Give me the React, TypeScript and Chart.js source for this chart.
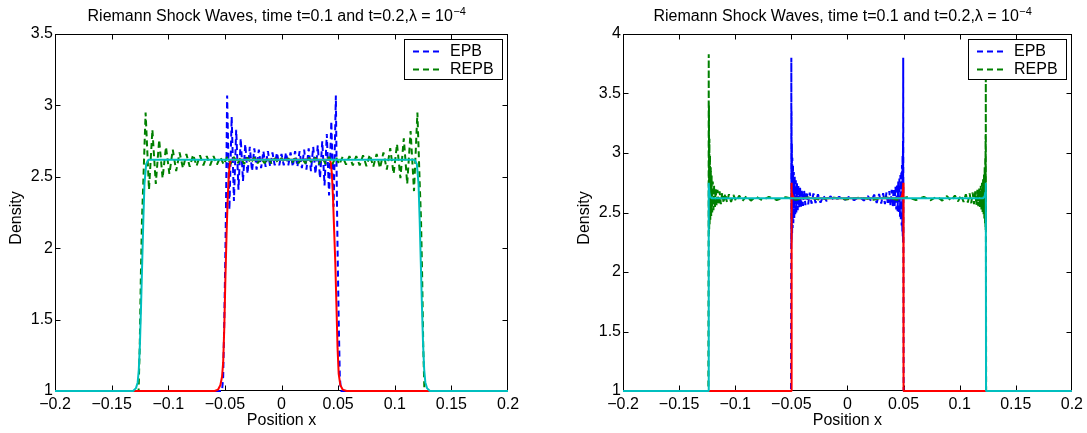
import React, { useEffect, useRef } from 'react';
import { Chart, registerables } from 'chart.js';

Chart.register(...registerables);

const FONT = "'Liberation Sans', Arial, Helvetica, sans-serif";

// ---------- tick labels ----------
const xTickValues = [-0.2, -0.15, -0.1, -0.05, 0, 0.05, 0.1, 0.15, 0.2];
const xTickLabels = ['\u22120.2', '\u22120.15', '\u22120.1', '\u22120.05', '0', '0.05', '0.1', '0.15', '0.2'];
const leftYTickValues = [1, 1.5, 2, 2.5, 3, 3.5];
const leftYTickLabels = ['1', '1.5', '2', '2.5', '3', '3.5'];
const rightYTickValues = [1, 1.5, 2, 2.5, 3, 3.5, 4];
const rightYTickLabels = ['1', '1.5', '2', '2.5', '3', '3.5', '4'];

const titleMain = 'Riemann Shock Waves, time t=0.1 and t=0.2,\u03bb = 10';
const titleSup = '\u22124';
const xAxisTitle = 'Position x';
const yAxisTitle = 'Density';
const legendLabels = ['EPB', 'REPB'];

// ---------- left panel data ----------
const leftRedX = [-0.2, -0.059, -0.056, -0.054, -0.0525, -0.0515, -0.0505, -0.0495, -0.0485, -0.0475, -0.0465, -0.0455, -0.0445,
  0.0425, 0.0435, 0.0445, 0.0455, 0.0465, 0.0475, 0.0485, 0.0495, 0.0505, 0.052, 0.054, 0.0575, 0.2];
const leftRedY = [1, 1, 1.01, 1.04, 1.1, 1.2, 1.45, 1.8, 2.1, 2.35, 2.52, 2.6, 2.62,
  2.62, 2.6, 2.52, 2.35, 2.12, 1.9, 1.6, 1.3, 1.12, 1.04, 1.01, 1, 1];

const leftCyanX = [-0.2, -0.131, -0.1285, -0.127, -0.126, -0.125, -0.124, -0.123, -0.122, -0.121, -0.1195, -0.1175,
  0.1175, 0.1195, 0.121, 0.122, 0.123, 0.124, 0.125, 0.126, 0.127, 0.1285, 0.131, 0.2];
const leftCyanY = [1, 1, 1.02, 1.06, 1.15, 1.33, 1.6, 1.9, 2.2, 2.45, 2.59, 2.62,
  2.62, 2.59, 2.45, 2.2, 1.9, 1.6, 1.33, 1.15, 1.06, 1.02, 1, 1];

const leftEpbX = [-0.2, -0.0525, -0.0515, -0.0505, -0.0495, -0.049,
  -0.048, -0.046, -0.044, -0.042, -0.04, -0.038, -0.036, -0.034, -0.032, -0.03,
  -0.028, -0.026, -0.024, -0.022, -0.02, -0.018, -0.016, -0.014, -0.012, -0.01,
  -0.008, -0.006, -0.004, -0.002, 0, 0.002, 0.004, 0.006, 0.008, 0.01,
  0.012, 0.014, 0.016, 0.018, 0.02, 0.022, 0.024, 0.026, 0.028, 0.03,
  0.032, 0.034, 0.036, 0.038, 0.04, 0.042, 0.044, 0.046, 0.048,
  0.049, 0.0495, 0.0505, 0.0515, 0.0525, 0.2];
const leftEpbY = [1, 1, 1.1, 1.5, 2.0, 2.3,
  3.07, 2.27, 2.92, 2.33, 2.83, 2.41, 2.77, 2.47, 2.73, 2.52,
  2.71, 2.54, 2.70, 2.55, 2.69, 2.56, 2.68, 2.57, 2.68, 2.57,
  2.67, 2.58, 2.67, 2.58, 2.66, 2.58, 2.67, 2.58, 2.67, 2.57,
  2.68, 2.57, 2.68, 2.56, 2.69, 2.55, 2.70, 2.54, 2.71, 2.52,
  2.72, 2.49, 2.75, 2.44, 2.80, 2.37, 2.89, 2.29, 3.07,
  2.3, 2.0, 1.5, 1.1, 1, 1];

const leftRepbX = [-0.2, -0.1262, -0.1252, -0.1242, -0.1232, -0.1222,
  -0.12, -0.117, -0.114, -0.111, -0.108, -0.105, -0.102, -0.099, -0.096, -0.093,
  -0.09, -0.087, -0.084, -0.081, -0.078, -0.075, -0.072, -0.069, -0.066, -0.063,
  -0.06, -0.057, -0.054, -0.051, -0.048, -0.045, -0.042, -0.039, -0.036, -0.033,
  -0.03, -0.027, -0.024, -0.021, -0.018, -0.015, -0.012, -0.009, -0.006, -0.003,
  0, 0.003, 0.006, 0.009, 0.012, 0.015, 0.018, 0.021, 0.024, 0.027,
  0.03, 0.033, 0.036, 0.039, 0.042, 0.045, 0.048, 0.051, 0.054, 0.057,
  0.06, 0.063, 0.066, 0.069, 0.072, 0.075, 0.078, 0.081, 0.084, 0.087,
  0.09, 0.093, 0.096, 0.099, 0.102, 0.105, 0.108, 0.111, 0.114, 0.117, 0.12,
  0.1222, 0.1232, 0.1242, 0.1252, 0.1262, 0.2];
const leftRepbY = [1, 1, 1.3, 1.8, 2.2, 2.42,
  2.95, 2.41, 2.83, 2.45, 2.76, 2.49, 2.71, 2.52, 2.69, 2.54,
  2.67, 2.56, 2.66, 2.57, 2.655, 2.575, 2.65, 2.58, 2.645, 2.58,
  2.645, 2.585, 2.64, 2.585, 2.64, 2.59, 2.64, 2.59, 2.635, 2.59,
  2.635, 2.595, 2.635, 2.595, 2.63, 2.595, 2.63, 2.595, 2.63, 2.6,
  2.63, 2.6, 2.63, 2.595, 2.63, 2.595, 2.63, 2.595, 2.635, 2.595,
  2.635, 2.59, 2.635, 2.59, 2.64, 2.59, 2.64, 2.585, 2.64, 2.585,
  2.645, 2.58, 2.645, 2.58, 2.65, 2.575, 2.655, 2.57, 2.66, 2.56,
  2.67, 2.55, 2.70, 2.52, 2.73, 2.49, 2.77, 2.45, 2.82, 2.40, 2.95,
  2.42, 2.2, 1.8, 1.3, 1, 1];

// ---------- right panel data ----------
const rightRedX = [-0.2, -0.0502, -0.05, -0.0495, -0.0487, -0.0473, 0.0471, 0.0485, 0.0493, 0.0498, 0.05, 0.2];
const rightRedY = [1, 1, 2.75, 2.67, 2.635, 2.62, 2.62, 2.635, 2.67, 2.75, 1, 1];

const rightCyanX = [-0.2, -0.1238, -0.1236, -0.1231, -0.1224, -0.121, 0.121, 0.1222, 0.1229, 0.1233, 0.1235, 0.2];
const rightCyanY = [1, 1, 2.75, 2.67, 2.635, 2.62, 2.62, 2.635, 2.67, 2.75, 1, 1];

const rightEpbX = [-0.2, -0.0503, -0.0501, -0.05, -0.0499, -0.0498, -0.0497, -0.0495, -0.0493, -0.0491,
  -0.0488, -0.0485, -0.0482, -0.0478, -0.0474, -0.047, -0.0465, -0.046, -0.0455, -0.0449,
  -0.0443, -0.0437, -0.043, -0.0422, -0.0414, -0.0405, -0.0396, -0.0386, -0.0375, -0.0363,
  -0.035, -0.0336, -0.032, -0.0303, -0.0284, -0.0263, -0.024, -0.0214, -0.0185, -0.0152,
  -0.0115, -0.0074, -0.003,
  0.0015, 0.006, 0.0105, 0.0146, 0.0182, 0.0212, 0.0238, 0.0261, 0.0282, 0.0301,
  0.0318, 0.0334, 0.0348, 0.0361, 0.0373, 0.0384, 0.0394, 0.0403, 0.0412, 0.042,
  0.0428, 0.0435, 0.0441, 0.0447, 0.0453, 0.0458, 0.0463, 0.0468, 0.0472, 0.0476,
  0.048, 0.0483, 0.0486, 0.0489, 0.0491, 0.0493, 0.0495, 0.0496, 0.0497, 0.0499, 0.0501, 0.2];
const rightEpbY = [1, 1, 2.21, 3.80, 2.23, 3.35, 2.27, 3.08, 2.32, 2.96,
  2.37, 2.89, 2.41, 2.84, 2.45, 2.80, 2.48, 2.77, 2.5, 2.745,
  2.52, 2.725, 2.535, 2.71, 2.545, 2.695, 2.555, 2.685, 2.562, 2.675,
  2.568, 2.667, 2.574, 2.66, 2.579, 2.654, 2.583, 2.64, 2.595, 2.636,
  2.6, 2.632, 2.603,
  2.632, 2.603, 2.634, 2.6, 2.638, 2.595, 2.65, 2.58, 2.656, 2.575,
  2.662, 2.57, 2.67, 2.564, 2.68, 2.557, 2.69, 2.548, 2.705, 2.538,
  2.72, 2.525, 2.74, 2.51, 2.76, 2.49, 2.785, 2.465, 2.815, 2.43,
  2.85, 2.39, 2.9, 2.34, 2.98, 2.29, 3.1, 2.25, 3.80, 2.21, 1, 1];

const rightRepbX = [-0.2, -0.1239, -0.1237, -0.1236, -0.1235, -0.1234, -0.1232, -0.123, -0.1228, -0.1225,
  -0.1222, -0.1218, -0.1214, -0.121, -0.1205, -0.12, -0.1194, -0.1188, -0.1181, -0.1174,
  -0.1166, -0.1158, -0.1149, -0.1139, -0.1128, -0.1116, -0.1103, -0.1089, -0.1073, -0.1056,
  -0.1037, -0.1016, -0.0992, -0.0965, -0.0935, -0.09, -0.086, -0.0814, -0.076, -0.07,
  -0.063, -0.055, -0.046, -0.036, -0.025, -0.013, -0.001,
  0.011, 0.023, 0.034, 0.044, 0.053, 0.061, 0.068, 0.0742, 0.0797, 0.0845,
  0.0887, 0.0924, 0.0957, 0.0986, 0.1012, 0.1035, 0.1055, 0.1073, 0.1089, 0.1103,
  0.1116, 0.1128, 0.1139, 0.1149, 0.1158, 0.1166, 0.1174, 0.1181, 0.1188, 0.1194,
  0.1199, 0.1204, 0.1209, 0.1213, 0.1217, 0.122, 0.1223, 0.1226, 0.1228, 0.123,
  0.1231, 0.1232, 0.1233, 0.1234, 0.1236, 0.2];
const rightRepbY = [1, 1, 2.30, 3.83, 2.32, 3.40, 2.36, 3.12, 2.40, 2.98,
  2.44, 2.88, 2.47, 2.81, 2.5, 2.76, 2.52, 2.73, 2.54, 2.705,
  2.553, 2.69, 2.563, 2.678, 2.571, 2.668, 2.578, 2.66, 2.584, 2.653,
  2.589, 2.647, 2.593, 2.642, 2.597, 2.638, 2.6, 2.634, 2.603, 2.631,
  2.605, 2.629, 2.607, 2.627, 2.608, 2.626, 2.609,
  2.626, 2.608, 2.627, 2.607, 2.629, 2.605, 2.631, 2.603, 2.634, 2.6,
  2.638, 2.597, 2.642, 2.593, 2.647, 2.589, 2.653, 2.584, 2.66, 2.578,
  2.668, 2.571, 2.678, 2.562, 2.69, 2.552, 2.705, 2.54, 2.725, 2.525,
  2.75, 2.505, 2.78, 2.48, 2.82, 2.45, 2.88, 2.41, 2.97, 2.37,
  3.15, 2.34, 3.63, 2.32, 1, 1];

// ---------- styling ----------
const COLORS = { blue: '#0000FF', green: '#008000', red: '#FF0000', cyan: '#00BFBF' };
const DASH = [6, 4];

function zip(xs: number[], ys: number[]) {
  return xs.map((x, i) => ({ x, y: ys[i] }));
}

type Spec = {
  cyanX: number[]; cyanY: number[]; redX: number[]; redY: number[];
  repbX: number[]; repbY: number[]; epbX: number[]; epbY: number[];
  yMin: number; yMax: number; yTicks: number[]; yLabels: string[];
  yAxisWidth: number; padRight: number;
};

const leftSpec: Spec = {
  cyanX: leftCyanX, cyanY: leftCyanY, redX: leftRedX, redY: leftRedY,
  repbX: leftRepbX, repbY: leftRepbY, epbX: leftEpbX, epbY: leftEpbY,
  yMin: 1, yMax: 3.5, yTicks: leftYTickValues, yLabels: leftYTickLabels,
  yAxisWidth: 55, padRight: 52,
};

const rightSpec: Spec = {
  cyanX: rightCyanX, cyanY: rightCyanY, redX: rightRedX, redY: rightRedY,
  repbX: rightRepbX, repbY: rightRepbY, epbX: rightEpbX, epbY: rightEpbY,
  yMin: 1, yMax: 4, yTicks: rightYTickValues, yLabels: rightYTickLabels,
  yAxisWidth: 63, padRight: 12,
};

function buildDatasets(s: Spec) {
  const base = [
    { label: 'exact t=0.2', data: zip(s.cyanX, s.cyanY), borderColor: COLORS.cyan, order: 0 },
    { label: 'exact t=0.1', data: zip(s.redX, s.redY), borderColor: COLORS.red, order: 1 },
    { label: 'REPB', data: zip(s.repbX, s.repbY), borderColor: COLORS.green, borderDash: DASH, order: 2 },
    { label: 'EPB', data: zip(s.epbX, s.epbY), borderColor: COLORS.blue, borderDash: DASH, order: 3 },
  ];
  return base.map((d) => ({
    ...d,
    borderWidth: 2,
    pointRadius: 0,
    pointHoverRadius: 0,
    fill: false,
    tension: 0,
    clip: 4,
    borderJoinStyle: 'bevel',
  }));
}

function makeDecor(s: Spec) {
  return {
    id: 'matlabDecor',
    beforeDatasetsDraw(chart: any) {
      const { ctx, chartArea: a } = chart;
      const xs = chart.scales.x;
      const ys = chart.scales.y;
      const L = Math.round(a.left) + 0.5;
      const R = Math.round(a.right) - 0.5;
      const T = Math.round(a.top) + 0.5;
      const B = Math.round(a.bottom) - 0.5;
      ctx.save();
      ctx.setLineDash([]);
      ctx.strokeStyle = '#000';
      ctx.lineWidth = 1;
      ctx.strokeRect(L, T, R - L, B - T);
      ctx.beginPath();
      for (const v of xTickValues) {
        const px = Math.min(R, Math.max(L, Math.round(xs.getPixelForValue(v)) + 0.5));
        ctx.moveTo(px, B); ctx.lineTo(px, B - 5);
        ctx.moveTo(px, T); ctx.lineTo(px, T + 5);
      }
      for (const v of s.yTicks) {
        const py = Math.min(B, Math.max(T, Math.round(ys.getPixelForValue(v)) + 0.5));
        ctx.moveTo(L, py); ctx.lineTo(L + 5, py);
        ctx.moveTo(R, py); ctx.lineTo(R - 5, py);
      }
      ctx.stroke();
      ctx.restore();
    },
    afterDraw(chart: any) {
      const { ctx, chartArea: a } = chart;
      ctx.save();
      ctx.fillStyle = '#000';
      // title with superscript
      const cx = (a.left + a.right) / 2 - 5;
      ctx.font = `16px ${FONT}`;
      const w1 = ctx.measureText(titleMain).width;
      ctx.font = `11px ${FONT}`;
      const w2 = ctx.measureText(titleSup).width;
      const x0 = cx - (w1 + w2) / 2;
      ctx.textAlign = 'left';
      ctx.textBaseline = 'alphabetic';
      ctx.font = `16px ${FONT}`;
      ctx.fillText(titleMain, x0, 21);
      ctx.font = `11px ${FONT}`;
      ctx.fillText(titleSup, x0 + w1 + 0.5, 14.5);

      // axis titles
      ctx.font = `16px ${FONT}`;
      ctx.textAlign = 'center';
      ctx.textBaseline = 'middle';
      ctx.fillText(xAxisTitle, (a.left + a.right) / 2, 421);
      ctx.save();
      ctx.translate(a.left - 38, 218);
      ctx.rotate(-Math.PI / 2);
      ctx.fillText(yAxisTitle, 0, 0);
      ctx.restore();

      // legend
      const bw = 98;
      const bh = 40;
      const bx = Math.round(a.right) - 6 - bw;
      const by = Math.round(a.top) + 5;
      ctx.fillStyle = '#fff';
      ctx.fillRect(bx, by, bw, bh);
      ctx.strokeStyle = '#000';
      ctx.lineWidth = 1;
      ctx.setLineDash([]);
      ctx.strokeRect(bx + 0.5, by + 0.5, bw, bh);
      const rows = [
        { label: legendLabels[0], color: COLORS.blue, y: by + 12.5 },
        { label: legendLabels[1], color: COLORS.green, y: by + 30.5 },
      ];
      for (const r of rows) {
        ctx.strokeStyle = r.color;
        ctx.lineWidth = 2;
        ctx.setLineDash(DASH);
        ctx.beginPath();
        ctx.moveTo(bx + 9, r.y);
        ctx.lineTo(bx + 37, r.y);
        ctx.stroke();
        ctx.setLineDash([]);
        ctx.fillStyle = '#000';
        ctx.textAlign = 'left';
        ctx.textBaseline = 'middle';
        ctx.font = `16px ${FONT}`;
        ctx.fillText(r.label, bx + 46, r.y + 0.5);
      }
      ctx.restore();
    },
  };
}

function makeConfig(s: Spec) {
  const tickFont = { family: FONT, size: 16 };
  return {
    type: 'line',
    data: { datasets: buildDatasets(s) },
    options: {
      responsive: false,
      animation: false,
      devicePixelRatio: 1,
      events: [],
      layout: { padding: { top: 34, left: 0, bottom: 0, right: s.padRight } },
      plugins: {
        legend: { display: false },
        tooltip: { enabled: false },
        title: { display: false },
      },
      scales: {
        x: {
          type: 'linear',
          min: -0.2,
          max: 0.2,
          grid: { display: false, drawTicks: false },
          border: { display: false },
          afterBuildTicks: (sc: any) => { sc.ticks = xTickValues.map((v) => ({ value: v })); },
          afterFit: (sc: any) => { sc.height = 42; },
          ticks: {
            autoSkip: false,
            maxRotation: 0,
            minRotation: 0,
            padding: 4,
            color: '#000',
            font: tickFont,
            callback: (_v: any, i: number) => xTickLabels[i],
          },
        },
        y: {
          type: 'linear',
          min: s.yMin,
          max: s.yMax,
          grid: { display: false, drawTicks: false },
          border: { display: false },
          afterBuildTicks: (sc: any) => { sc.ticks = s.yTicks.map((v) => ({ value: v })); },
          afterFit: (sc: any) => { sc.width = s.yAxisWidth; },
          ticks: {
            autoSkip: false,
            padding: 2,
            color: '#000',
            font: tickFont,
            callback: (_v: any, i: number) => s.yLabels[i],
          },
        },
      },
    },
    plugins: [makeDecor(s)],
  };
}

function Panel({ spec, left, width }: { spec: Spec; left: number; width: number }) {
  const ref = useRef<HTMLCanvasElement>(null);
  useEffect(() => {
    const chart = new Chart(ref.current as HTMLCanvasElement, makeConfig(spec) as any);
    return () => chart.destroy();
  }, [spec]);
  return (
    <canvas
      ref={ref}
      width={width}
      height={433}
      style={{ position: 'absolute', left, top: 0, width, height: 433, display: 'block' }}
    />
  );
}

export default function App() {
  return (
    <div style={{ position: 'absolute', left: 0, top: 0, width: 1087, height: 433, background: '#fff' }}>
      <Panel spec={leftSpec} left={0} width={560} />
      <Panel spec={rightSpec} left={560} width={527} />
    </div>
  );
}
